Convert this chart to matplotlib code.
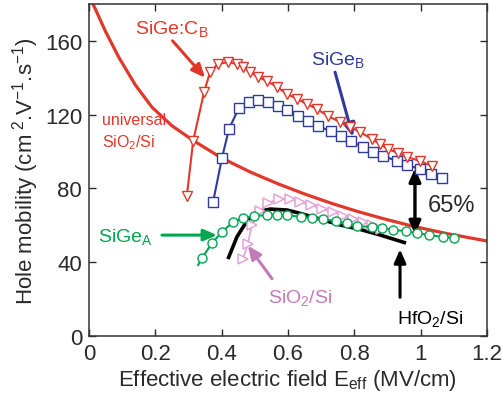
import matplotlib
matplotlib.use("Agg")
import matplotlib.pyplot as plt

plt.rcParams["font.family"] = ["Liberation Sans", "DejaVu Sans"]
plt.rcParams["mathtext.fontset"] = "custom"
plt.rcParams["mathtext.rm"] = "Liberation Sans"
plt.rcParams["mathtext.it"] = "Liberation Sans:italic"
plt.rcParams["mathtext.bf"] = "Liberation Sans:bold"
plt.rcParams["mathtext.default"] = "regular"

# universal SiO2/Si mobility curve
univ_x = [0.012, 0.05, 0.09, 0.14, 0.19, 0.25, 0.314, 0.40, 0.485, 0.57,
          0.65, 0.73, 0.81, 0.89, 0.977, 1.08, 1.2]
univ_y = [180, 165, 151, 136, 124, 114, 106, 96.5, 89, 82.5,
          77, 72, 67.5, 63.5, 59.5, 55.5, 51.5]

# SiGe:C B (down triangles)
sigec_x = [0.295, 0.314, 0.347, 0.365, 0.389, 0.419, 0.446, 0.464, 0.485, 0.510,
           0.537, 0.567, 0.597, 0.627, 0.658, 0.688, 0.721, 0.757, 0.787, 0.817,
           0.853, 0.877, 0.901, 0.932, 0.959, 0.998, 1.034]
sigec_y = [75.9, 105.7, 132.2, 143.1, 147.4, 148.5, 147.4, 145.8, 143.1, 140.4,
           138.2, 135.0, 131.2, 128.5, 125.7, 123.0, 119.2, 116.0, 113.3, 110.6,
           106.8, 104.1, 101.4, 99.2, 97.0, 94.9, 92.1]

# SiGe B (squares)
sigeb_x = [0.374, 0.401, 0.422, 0.452, 0.482, 0.510, 0.540, 0.570, 0.597, 0.630,
           0.660, 0.690, 0.729, 0.760, 0.790, 0.826, 0.856, 0.886, 0.929, 0.959,
           0.998, 1.031, 1.064]
sigeb_y = [72.6, 96.5, 112.2, 123.6, 126.8, 127.9, 126.8, 124.7, 122.5, 119.2,
           116.5, 113.8, 111.1, 108.4, 105.7, 102.4, 99.7, 97.6, 94.9, 92.7,
           90.5, 87.8, 85.6]

# SiGe A (circles)
sigea_x = [0.329, 0.341, 0.371, 0.401, 0.434, 0.464, 0.497, 0.537, 0.567, 0.597,
           0.639, 0.672, 0.705, 0.745, 0.778, 0.808, 0.853, 0.883, 0.916, 0.956,
           0.989, 1.025, 1.067, 1.100]
sigea_y = [38.5, 42.3, 50.4, 56.4, 61.8, 64.0, 65.0, 65.6, 65.6, 65.6,
           64.5, 64.0, 63.4, 62.3, 61.2, 59.6, 59.1, 58.5, 57.5, 56.9,
           55.8, 54.7, 53.7, 53.1]

# SiO2/Si (right triangles)
sio2_x = [0.464, 0.479, 0.491, 0.516, 0.540, 0.573, 0.606, 0.636, 0.669, 0.702,
          0.736, 0.766, 0.796, 0.826, 0.853, 0.880]
sio2_y = [41.7, 49.9, 60.2, 67.8, 72.1, 74.3, 74.3, 72.6, 71.0, 68.8,
          67.2, 65.0, 63.4, 61.8, 60.2, 58.0]

# HfO2/Si
hfo2_x = [0.419, 0.446, 0.476, 0.506, 0.546, 0.597, 0.645, 0.696, 0.757, 0.817,
          0.877, 0.956]
hfo2_y = [41.7, 53.7, 62.3, 67.2, 68.8, 68.3, 66.1, 63.4, 60.2, 57.8, 54.8, 50.4]

RED = "#e2372b"
BLUE = "#2e3a9c"
GREEN = "#00a650"
PINK = "#e4a3d6"
PINK_DARK = "#c47ab8"
TXT = "#2a2a2a"

fig = plt.figure(figsize=(5.03, 4.14), dpi=100)
ax = fig.add_axes([0.177, 0.186, 0.791, 0.802])

ax.plot(univ_x, univ_y, color=RED, lw=2.3, zorder=2)
ax.plot(hfo2_x, hfo2_y, color="black", lw=2.6, zorder=3, solid_capstyle="butt")
ax.plot(sio2_x, sio2_y, color=PINK, lw=1.3, marker=">", ms=7, mfc="white",
        mec=PINK, mew=1.1, zorder=3)
ax.plot(sigea_x, sigea_y, color=GREEN, lw=1.5, marker="o", ms=6.5, mfc="white",
        mec=GREEN, mew=1.0, markevery=list(range(1, len(sigea_x))), zorder=4)
ax.plot(sigeb_x, sigeb_y, color=BLUE, lw=1.5, marker="s", ms=7, mfc="white",
        mec=BLUE, mew=1.0, zorder=4)
ax.plot(sigec_x, sigec_y, color=RED, lw=1.5, marker="v", ms=7, mfc="white",
        mec=RED, mew=1.0, zorder=4)

ax.set_xlim(0, 1.2)
ax.set_ylim(0, 180)
ax.set_xticks([0, 0.2, 0.4, 0.6, 0.8, 1.0, 1.2])
ax.set_xticklabels(["0", "0.2", "0.4", "0.6", "0.8", "1", "1.2"])
ax.set_yticks([0, 40, 80, 120, 160])
ax.tick_params(direction="in", length=5, width=1, top=True, right=True,
               labelsize=16, colors=TXT, pad=5)
for s in ax.spines.values():
    s.set_color("#333333")
    s.set_linewidth(1.1)

ax.set_xlabel(r"Effective electric field E$_{\rm eff}$ (MV/cm)", fontsize=16,
              color=TXT, labelpad=2)
ax.set_ylabel(r"Hole mobility (cm$^{\ 2}$.V$^{-1}$.s$^{-1}$)", fontsize=16,
              color=TXT, labelpad=3)

arrow = dict(arrowstyle="-|>,head_length=0.8,head_width=0.35", lw=2.2,
             shrinkA=0, shrinkB=0)

# labels and arrows
ax.text(0.25, 167, r"SiGe:C$_{\rm B}$", color=RED, fontsize=14, ha="center",
        va="center")
ax.annotate("", xy=(0.350, 140), xytext=(0.252, 160),
            arrowprops=dict(arrow, color=RED))
ax.text(0.04, 111, "universal\nSiO$_2$/Si", color=RED, fontsize=11.5,
        ha="left", va="center", linespacing=1.35)

ax.text(0.75, 150, r"SiGe$_{\rm B}$", color=BLUE, fontsize=14, ha="center",
        va="center")
ax.annotate("", xy=(0.796, 108), xytext=(0.742, 143),
            arrowprops=dict(arrow, color=BLUE))

ax.text(0.027, 54, r"SiGe$_{\rm A}$", color=GREEN, fontsize=14, ha="left",
        va="center")
ax.annotate("", xy=(0.386, 54.7), xytext=(0.22, 54.7),
            arrowprops=dict(arrow, color=GREEN))

ax.text(0.636, 21, r"SiO$_2$/Si", color=PINK_DARK, fontsize=14, ha="center",
        va="center")
ax.annotate("", xy=(0.479, 49), xytext=(0.552, 31),
            arrowprops=dict(arrow, color=PINK_DARK))

ax.text(1.028, 10, r"HfO$_2$/Si", color="black", fontsize=14, ha="center",
        va="center")
ax.annotate("", xy=(0.938, 47), xytext=(0.938, 21),
            arrowprops=dict(arrow, color="black"))

ax.annotate("", xy=(0.983, 91), xytext=(0.983, 55),
            arrowprops=dict(arrowstyle="<|-|>,head_length=0.8,head_width=0.35",
                            lw=2.4, color="black", shrinkA=0, shrinkB=0))
ax.text(1.022, 71, "65%", color=TXT, fontsize=17, ha="left", va="center")

fig.savefig("out.png", dpi=100)
